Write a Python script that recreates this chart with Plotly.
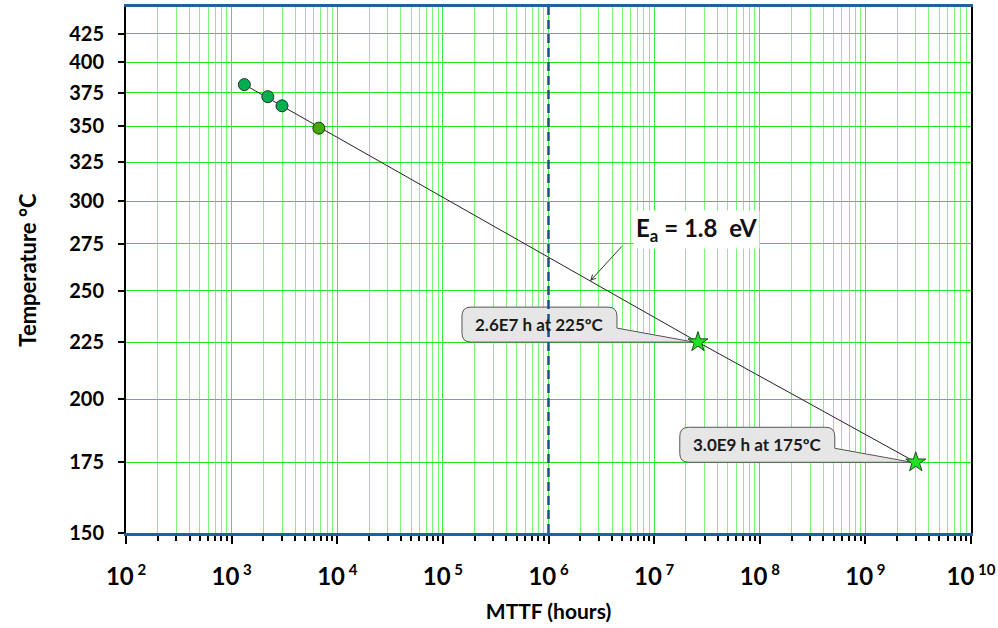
import numpy as np
import plotly.graph_objects as go

KELVIN = 273.15
FONT = "Lato"


def inv_t(temp_c):
    """Arrhenius ordinate: 1000 / T[K]."""
    return 1000.0 / (np.asarray(temp_c, dtype=float) + KELVIN)


# Accelerated life-test results
test_hours = [1320, 2200, 3000, 6700]
test_temp_c = [381.5, 372, 365, 348.5]
test_colors = ["#00b050", "#00b050", "#00b050", "#46a800"]

# Arrhenius extrapolation line (Ea = 1.8 eV)
fit_hours = [1320, 2.6e7, 3.0e9]
fit_temp_c = [381.5, 225, 175]

# Projected lifetimes at use conditions
proj_hours = [2.6e7, 3.0e9]
proj_temp_c = [225, 175]
proj_labels = ["2.6E7 h at 225ºC", "3.0E9 h at 175ºC"]

# Required MTTF
target_hours = 1e6

# Axes
temp_ticks = [150, 175, 200, 225, 250, 275, 300, 325, 350, 375, 400, 425]
temp_range = [150, 450]
decades = list(range(2, 11))
minor_mult = [2, 3, 4, 5, 6, 7, 8, 9]

# Temperature of the point on the fit line the Ea label points to
ea_label_temp_c = 255

GRID_H = "#22e622"
GRID_V = "#7af57a"
GRID_V_MAJOR = "#3cec3c"
BLUE = "#22609e"

fig = go.Figure()

y_lo, y_hi = inv_t(temp_range[0]), inv_t(temp_range[1])

# Required-MTTF marker
fig.add_trace(go.Scatter(
    x=[target_hours, target_hours], y=[y_lo, y_hi], mode="lines",
    line=dict(color="#1f4e86", width=2.5, dash="9px,5px"),
    hoverinfo="skip", showlegend=False, cliponaxis=False,
))

# Fit line
fig.add_trace(go.Scatter(
    x=fit_hours, y=inv_t(fit_temp_c), mode="lines",
    line=dict(color="#222222", width=1), showlegend=False,
))

# Test points
fig.add_trace(go.Scatter(
    x=test_hours, y=inv_t(test_temp_c), mode="markers",
    marker=dict(size=12, color=test_colors, line=dict(color="#2a2a2a", width=1)),
    showlegend=False,
))

# Projections
fig.add_trace(go.Scatter(
    x=proj_hours, y=inv_t(proj_temp_c), mode="markers",
    marker=dict(symbol="star", size=15, color="#22e022",
                line=dict(color="#1a4d1a", width=1)),
    showlegend=False,
))

# Callout boxes (pixel geometry relative to the star they point to)
box_l, box_r, box_b, box_t, rad = -236, -81, 0, 35, 9
callout_path = (
    f"M{box_l + rad},{box_b} L{box_r - 12},{box_b} L-4,0 "
    f"L{box_r},{box_b + 14} L{box_r},{box_t - rad} "
    f"Q{box_r},{box_t} {box_r - rad},{box_t} L{box_l + rad},{box_t} "
    f"Q{box_l},{box_t} {box_l},{box_t - rad} L{box_l},{box_b + rad} "
    f"Q{box_l},{box_b} {box_l + rad},{box_b} Z"
)
for h, tc, lab in zip(proj_hours, proj_temp_c, proj_labels):
    fig.add_shape(
        type="path", xref="x", yref="y",
        xsizemode="pixel", ysizemode="pixel",
        xanchor=h, yanchor=float(inv_t(tc)),
        path=callout_path, fillcolor="#e6e6e6",
        line=dict(color="#555555", width=1), layer="between",
    )
    fig.add_annotation(
        x=np.log10(h), y=float(inv_t(tc)), text=lab, showarrow=False,
        xshift=(box_l + box_r) / 2, yshift=(box_b + box_t) / 2,
        xanchor="center", yanchor="middle",
        font=dict(family=FONT, size=17, color="#1a1a1a", weight="bold"),
    )

# Ea label with its pointer onto the fit line
u_fit = inv_t(fit_temp_c)
ea_u = float(inv_t(ea_label_temp_c))
ea_logx = float(np.interp(ea_u, u_fit, np.log10(fit_hours)))
fig.add_annotation(
    x=ea_logx, y=ea_u, text="", showarrow=True,
    axref="pixel", ayref="pixel", ax=33, ay=-36,
    arrowhead=5, arrowsize=1, arrowwidth=1, arrowcolor="#333333",
)
fig.add_annotation(
    x=ea_logx, y=ea_u, text="E<sub>a</sub> = 1.8\u00a0 eV", showarrow=False,
    xshift=106, yshift=51, xanchor="center", yanchor="middle",
    bgcolor="white", borderpad=2,
    font=dict(family=FONT, size=24, color="#111111", weight="bold"),
)

x_tickvals = [10.0 ** d for d in decades]
x_ticktext = [f"10<sup><span style='font-size:15px'> {d}</span></sup>" for d in decades]
x_minor = [m * 10.0 ** d for d in decades[:-1] for m in minor_mult]

fig.update_layout(
    width=998, height=628,
    margin=dict(l=126, r=27, t=7, b=95),
    paper_bgcolor="white", plot_bgcolor="white",
    template="none", showlegend=False,
    font=dict(family=FONT, color="black"),
    xaxis=dict(
        type="log", range=[decades[0], decades[-1]],
        tickvals=x_tickvals, ticktext=x_ticktext,
        ticks="outside", ticklen=8, tickwidth=2, tickcolor="black",
        ticklabelstandoff=12,
        tickfont=dict(family=FONT, size=24, weight="bold", color="black"),
        showline=True, linecolor=BLUE, linewidth=3, mirror=True,
        showgrid=True, gridcolor=GRID_V_MAJOR, gridwidth=1,
        zeroline=False, automargin=False,
        minor=dict(tickvals=x_minor, ticks="outside", ticklen=5, tickwidth=2,
                   tickcolor="black", showgrid=True, gridcolor=GRID_V, gridwidth=1),
        title=dict(text="MTTF (hours)", standoff=16,
                   font=dict(family=FONT, size=21, weight="bold", color="black")),
    ),
    yaxis=dict(
        range=[float(y_lo), float(y_hi)],
        tickvals=[float(v) for v in inv_t(temp_ticks)],
        ticktext=[str(t) for t in temp_ticks],
        ticks="outside", ticklen=6, tickwidth=2, tickcolor="black",
        ticklabelstandoff=10,
        tickfont=dict(family=FONT, size=20, weight="bold", color="black"),
        showline=True, linecolor="black", linewidth=2, mirror=True,
        showgrid=True, gridcolor=GRID_H, gridwidth=1,
        zeroline=False, automargin=False,
        title=dict(text="Temperature °C", standoff=26,
                   font=dict(family=FONT, size=22, weight="bold", color="black")),
    ),
)

fig.write_html("out.html")
